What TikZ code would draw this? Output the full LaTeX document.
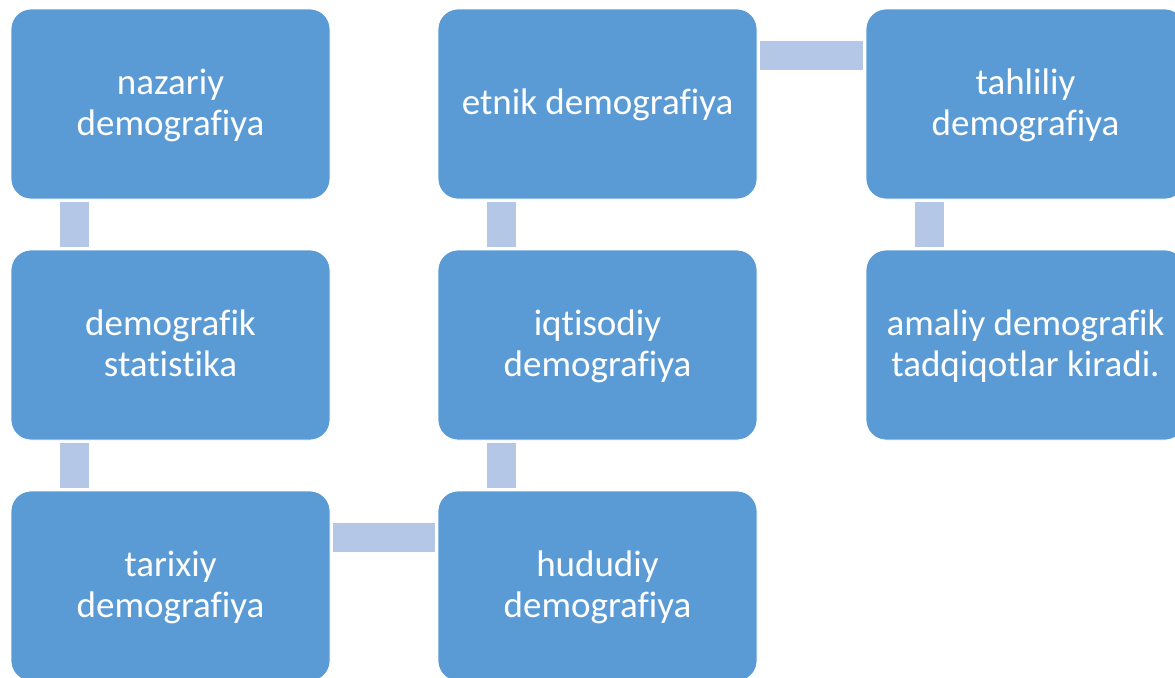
\documentclass[tikz,border=0pt]{standalone}
\usepackage{fontspec}
\setmainfont{Carlito}[Ligatures={NoCommon}]
\definecolor{boxblue}{HTML}{5B9BD5}
\definecolor{linkblue}{HTML}{B4C7E7}

\begin{document}
\begin{tikzpicture}[x=0.5pt,y=-0.5pt,
    block/.style={rectangle,rounded corners=10pt,fill=boxblue,draw=white,line width=0.4pt,
      minimum width=159.5pt,minimum height=95pt,inner sep=0pt,text=white,align=center,
      font=\fontsize{18.5}{20.25}\selectfont,text height=34.5pt,text depth=3.5pt},
    oneline/.style={text height=13.5pt},
    link/.style={draw=linkblue,line width=14.5pt,shorten <=1.25pt,shorten >=1.25pt}]

\useasboundingbox (0,0) rectangle (1175,677);
\clip (0,0) rectangle (1175,677);

% Column 1
\node[block] (nazariy) at (170.5,104) {nazariy\\demografiya};
\node[block] (statistika) at (170.5,345) {demografik\\statistika};
\node[block] (tarixiy) at (170.5,586) {tarixiy\\demografiya};

% Column 2
\node[block] (hududiy) at (597.5,586) {hududiy\\demografiya};
\node[block] (iqtisodiy) at (597.5,345) {iqtisodiy\\demografiya};
\node[block,oneline] (etnik) at (597.5,104) {etnik demografiya};

% Column 3
\node[block] (tahliliy) at (1025.5,104) {tahliliy\\demografiya};
\node[block] (amaliy) at (1025.5,345) {amaliy demografik\\tadqiqotlar kiradi.};

% Links
\draw[link] ([xshift=32pt]nazariy.south west) -- ([xshift=32pt]statistika.north west);
\draw[link] ([xshift=32pt]statistika.south west) -- ([xshift=32pt]tarixiy.north west);
\draw[link] ([yshift=-23.25pt]tarixiy.north east) -- ([yshift=-23.25pt]hududiy.north west);
\draw[link] ([xshift=32pt]hududiy.north west) -- ([xshift=32pt]iqtisodiy.south west);
\draw[link] ([xshift=32pt]iqtisodiy.north west) -- ([xshift=32pt]etnik.south west);
\draw[link] ([yshift=-23.25pt]etnik.north east) -- ([yshift=-23.25pt]tahliliy.north west);
\draw[link] ([xshift=32pt]tahliliy.south west) -- ([xshift=32pt]amaliy.north west);

\end{tikzpicture}
\end{document}
